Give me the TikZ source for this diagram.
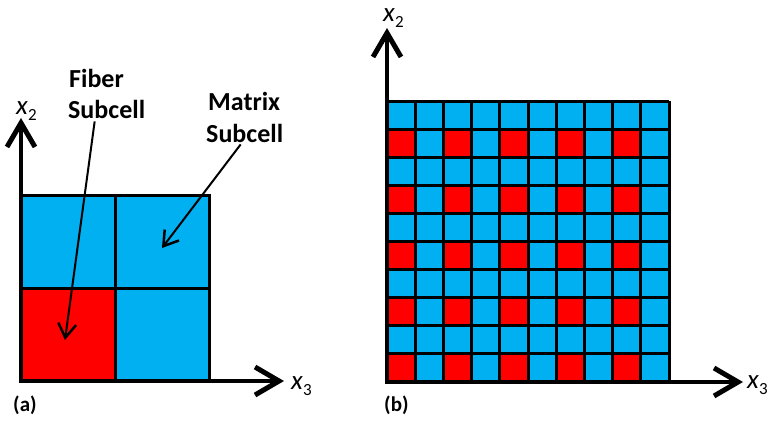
\documentclass[tikz,border=0pt]{standalone}
\usepackage{fontspec}
\setmainfont{Carlito}
\usetikzlibrary{arrows.meta}
\definecolor{cellblue}{HTML}{00B0F0}
\definecolor{cellred}{HTML}{FF0000}
\newcommand{\axlab}[1]{\textit{x}\raisebox{-0.25em}{\fontsize{17}{17}\selectfont #1}}
\tikzset{
  axisline/.style={line width=4pt, line cap=rect, -{Straight Barb[length=24pt,width=28pt,line width=5pt]}},
  cellline/.style={line width=3pt, black},
  pointer/.style={line width=2pt, -{Straight Barb[length=14pt,width=18pt,line width=2.5pt]}},
  lbl/.style={font=\bfseries\fontsize{26}{32}\selectfont, inner sep=0pt, anchor=base west},
  axlbl/.style={font=\fontsize{27}{30}\selectfont, inner sep=0pt, anchor=base west},
  panel/.style={font=\bfseries\fontsize{21}{24}\selectfont, inner sep=0pt, anchor=base west}
}
\begin{document}
\begin{tikzpicture}[x=1pt,y=-1pt]
\useasboundingbox (0,0) rectangle (770,423);
% ---------- panel (a)
\fill[cellblue] (21,195) rectangle (209,381);
\fill[cellred] (21,288) rectangle (115,381);
\draw[cellline] (21,195) rectangle (209,381);
\draw[cellline] (115,195) -- (115,381);
\draw[cellline] (21,288) -- (209,288);
\coordinate (oa) at (21,381);
\coordinate (ya) at (21,118);
\coordinate (xa) at (284,381);
\draw[axisline] (oa) -- (ya);
\draw[axisline] (oa) -- (xa);
\node[axlbl] (x2a) at (16,114) {\axlab{2}};
\node[axlbl] (x3a) at (291,389) {\axlab{3}};
\node[lbl] (ffib) at (69,87) {Fiber};
\node[lbl] (fsub) at (68,118) {Subcell};
\node[lbl] (mmat) at (208,110) {Matrix};
\node[lbl] (msub) at (206,142) {Subcell};
\coordinate (fibtip) at (65,340);
\coordinate (mattip) at (162,248);
\draw[pointer] ([xshift=-12pt,yshift=-3pt]fsub.south) -- (fibtip);
\draw[pointer] ([xshift=-4pt,yshift=-2pt]msub.south) -- (mattip);
\node[panel] (pa) at (13,411) {(a)};
% ---------- panel (b)
\fill[cellblue] (387,101) rectangle (669,382);
\foreach \c in {0,2,4,6,8} {
  \foreach \r in {0,2,4,6,8} {
    \fill[cellred] ({387+28.2*\c},{382-28.1*\r}) rectangle ({387+28.2*(\c+1)},{382-28.1*(\r+1)});
  }
}
\foreach \i in {0,...,10} {
  \draw[cellline] ({387+28.2*\i},101) -- ({387+28.2*\i},382);
  \draw[cellline] (387,{101+28.1*\i}) -- (669,{101+28.1*\i});
}
\coordinate (ob) at (387,382);
\coordinate (yb) at (387,28);
\coordinate (xb) at (743,382);
\draw[axisline] (ob) -- (yb);
\draw[axisline] (ob) -- (xb);
\node[axlbl] (x2b) at (383,21) {\axlab{2}};
\node[axlbl] (x3b) at (747,388) {\axlab{3}};
\node[panel] (pb) at (384,411) {(b)};
\end{tikzpicture}
\end{document}
